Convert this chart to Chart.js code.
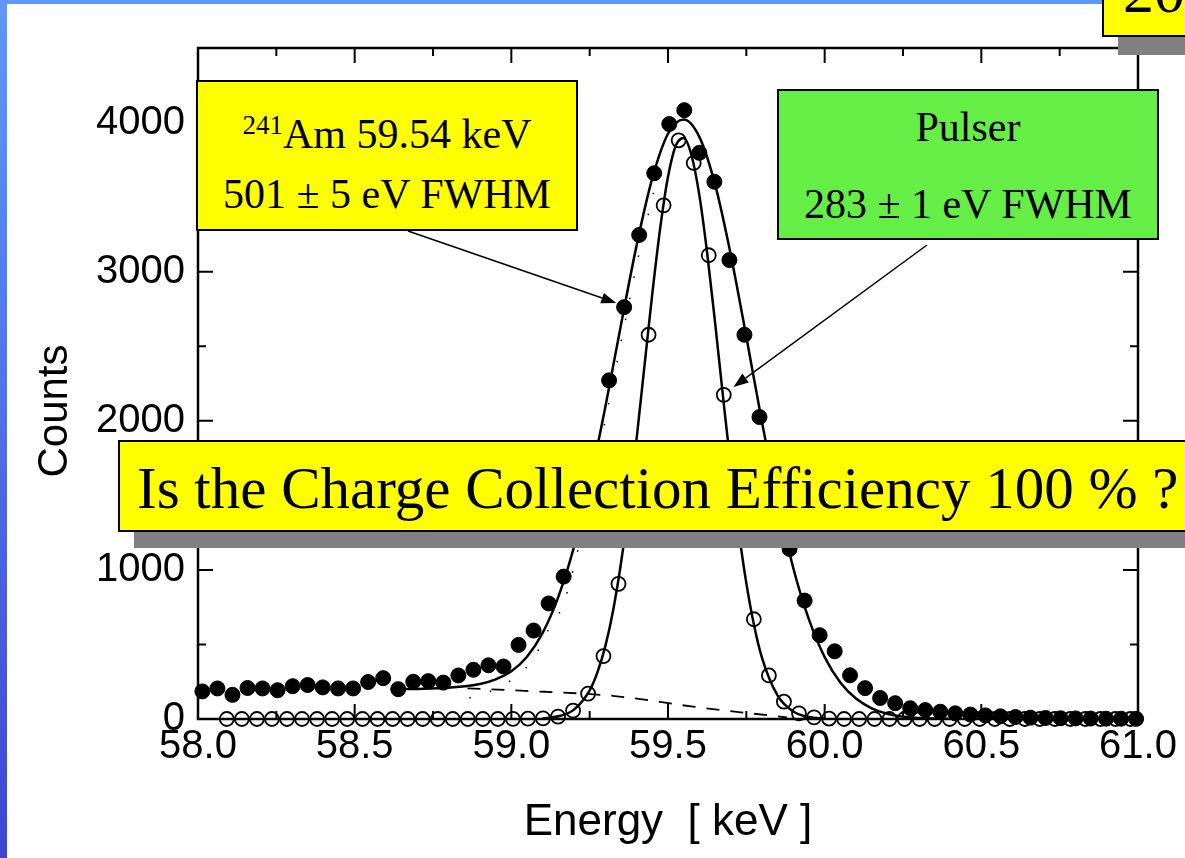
<!DOCTYPE html>
<html>
<head>
<meta charset="utf-8">
<script src="https://cdn.jsdelivr.net/npm/chart.js@4.4.1/dist/chart.umd.min.js"></script>
<style>
  body { margin: 0; background: #fff; }
  #slide { position: relative; width: 1185px; height: 858px; overflow: hidden; background: #fff; }
  #chart { position: absolute; left: 0; top: 0; }
  .bar-left { position: absolute; left: 0; top: 0; width: 7px; height: 858px; background: linear-gradient(#5f98fc, #3b46d3); }
  .bar-top { position: absolute; left: 0; top: 0; width: 1110px; height: 4px; background: #5f97fc; }
  .box { position: absolute; border: 2px solid #000; box-sizing: border-box; font-family: "Liberation Serif", "Times New Roman", serif; color: #000; }
  .shadow { position: absolute; background: #808080; }
  .txt { position: absolute; left: 0; right: 0; text-align: center; white-space: nowrap; font-size: 42px; line-height: 42px; }
</style>
</head>
<body>
<div id="slide">
  <div class="bar-left"></div>
  <div class="bar-top"></div>
  <canvas id="chart" width="1185" height="858"></canvas>

  <div class="box" style="left:196px;top:80px;width:382px;height:151px;background:#ffff00;">
    <div class="txt" style="top:22px;"><span style="font-size:27px;vertical-align:14px;">241</span>Am 59.54 keV</div>
    <div class="txt" style="top:91px;">501 ± 5 eV FWHM</div>
  </div>

  <div class="box" style="left:777px;top:89px;width:382px;height:151px;background:#64ee46;">
    <div class="txt" style="top:15px;">Pulser</div>
    <div class="txt" style="top:92px;">283 ± 1 eV FWHM</div>
  </div>

  <div class="shadow" style="left:134px;top:456px;width:1100px;height:92px;"></div>
  <div class="box" style="left:118px;top:440px;width:1100px;height:92px;background:#ffff00;">
    <div class="txt" style="left:17px;text-align:left;top:17px;font-size:59px;line-height:58px;">Is the Charge Collection Efficiency 100 % ?</div>
  </div>

  <div class="shadow" style="left:1118px;top:-20px;width:100px;height:75px;"></div>
  <div class="box" style="left:1102px;top:-30px;width:110px;height:67px;background:#ffff00;">
    <div class="txt" style="left:19px;text-align:left;top:-11px;font-size:62px;line-height:60px;">20</div>
  </div>
</div>

<script>
// 241Am spectrum (filled circles)
const amEnergy = [58.014, 58.062, 58.110, 58.158, 58.206, 58.254, 58.302, 58.350, 58.398, 58.447,
  58.495, 58.543, 58.591, 58.639, 58.687, 58.735, 58.783, 58.831, 58.879, 58.927,
  58.975, 59.023, 59.071, 59.119, 59.167, 59.216, 59.264, 59.312, 59.360, 59.408,
  59.456, 59.504, 59.552, 59.600, 59.648, 59.696, 59.744, 59.792, 59.840, 59.888,
  59.936, 59.984, 60.032, 60.081, 60.129, 60.177, 60.225, 60.273, 60.321, 60.369,
  60.417, 60.465, 60.513, 60.561, 60.609, 60.657, 60.705, 60.753, 60.801, 60.849,
  60.898, 60.946, 60.994];
const amCounts = [185, 205, 162, 208, 205, 193, 220, 228, 212, 205,
  205, 248, 274, 200, 250, 254, 244, 292, 330, 360,
  352, 497, 593, 775, 955, 1350, 1800, 2271, 2762, 3246,
  3660, 3990, 4083, 3797, 3603, 3078, 2577, 2025, 1560, 1140,
  794, 562, 454, 293, 207, 141, 106, 72, 60, 49,
  38, 30, 24, 18, 13, 9, 7, 5, 4, 3,
  2, 2, 1];

// pulser spectrum (open circles)
const pulserEnergy = [58.092, 58.140, 58.188, 58.236, 58.284, 58.332, 58.380, 58.428, 58.476, 58.525,
  58.573, 58.621, 58.669, 58.717, 58.765, 58.813, 58.861, 58.909, 58.957, 59.005,
  59.053, 59.101, 59.149, 59.197, 59.245, 59.294, 59.342, 59.390, 59.438, 59.486,
  59.534, 59.582, 59.630, 59.678, 59.726, 59.774, 59.822, 59.870, 59.918, 59.966,
  60.014, 60.062, 60.110, 60.159, 60.207, 60.255, 60.303, 60.351, 60.399, 60.447,
  60.495, 60.543, 60.591, 60.639, 60.687, 60.735, 60.784, 60.832, 60.880, 60.928,
  60.976];
const pulserCounts = [0, 0, 0, 0, 0, 0, 0, 0, 0, 0,
  0, 0, 0, 0, 0, 0, 0, 0, 0, 1,
  2, 4, 16, 56, 170, 422, 906, 1650, 2577, 3445,
  3881, 3729, 3110, 2174, 1330, 669, 292, 116, 38, 11,
  3, 0, 0, 0, 0, 0, 0, 0, 0, 0,
  0, 0, 0, 0, 0, 0, 0, 0, 0, 0,
  0];

// fit curves
const amFitEnergy = [58.62, 58.70, 58.80, 58.90, 58.95, 59.00, 59.05, 59.10, 59.15, 59.20,
  59.25, 59.30, 59.35, 59.40, 59.45, 59.50, 59.55, 59.60, 59.65, 59.70,
  59.75, 59.80, 59.85, 59.90, 59.95, 60.00, 60.05, 60.10, 60.15, 60.20,
  60.25, 60.30, 60.40];
const amFitCounts = [200, 202, 210, 235, 266, 320, 418, 578, 819, 1154,
  1585, 2093, 2644, 3178, 3627, 3925, 4021, 3904, 3587, 3117,
  2563, 1991, 1463, 1011, 666, 415, 245, 137, 72, 35,
  16, 7, 1];

const pulserFitEnergy = [59.10, 59.15, 59.20, 59.25, 59.275, 59.30, 59.325, 59.35, 59.375, 59.40,
  59.425, 59.45, 59.475, 59.50, 59.525, 59.55, 59.575, 59.60, 59.625, 59.65,
  59.675, 59.70, 59.725, 59.75, 59.775, 59.80, 59.85, 59.90, 59.95, 60.00];
const pulserFitCounts = [4, 18, 63, 192, 314, 489, 730, 1046, 1435, 1884,
  2370, 2854, 3290, 3636, 3846, 3897, 3781, 3513, 3125, 2663,
  2173, 1699, 1272, 911, 625, 410, 156, 50, 13, 3];

// background step (dashed) and gaussian component (dotted)
const stepEnergy = [58.86, 59.03, 59.33, 59.58, 59.88];
const stepCounts = [205, 190, 154, 83, 10];
const gaussEnergy = [58.866, 58.92, 59.022, 59.07, 59.118, 59.166, 59.214, 59.31, 59.358, 59.406, 59.454];
const gaussCounts = [141, 174, 295, 403, 597, 772, 1147, 2107, 2610, 3107, 3530];

const xTicks = [58.0, 58.5, 59.0, 59.5, 60.0, 60.5, 61.0];
const xMinorTicks = [58.25, 58.75, 59.25, 59.75, 60.25, 60.75];
const yTicks = [0, 1000, 2000, 3000, 4000];
const yMinorTicks = [500, 1500, 2500, 3500];

// arrow tips in data units, tails at the box edges
const amArrow = { tip: { x: 59.335, y: 2790 }, tail: { px: 408, py: 231 } };
const pulserArrow = { tip: { x: 59.709, y: 2227 }, tail: { px: 927, py: 245 } };

const sansFont = '"Liberation Sans", Arial, sans-serif';

function toXY(xs, ys) {
  return xs.map(function(x, i) { return { x: x, y: ys[i] }; });
}

// box frame with inward ticks on all four sides
const framePlugin = {
  id: 'frame',
  beforeDatasetsDraw(chart) {
    const { ctx, chartArea: a, scales } = chart;
    const x = scales.x, y = scales.y;
    ctx.save();
    ctx.strokeStyle = '#000';
    ctx.lineWidth = 2.5;
    ctx.strokeRect(a.left, a.top, a.right - a.left, a.bottom - a.top);
    ctx.lineWidth = 2;
    ctx.beginPath();
    const xt = function(v, len) {
      const p = x.getPixelForValue(v);
      ctx.moveTo(p, a.bottom); ctx.lineTo(p, a.bottom - len);
      ctx.moveTo(p, a.top); ctx.lineTo(p, a.top + len);
    };
    const yt = function(v, len) {
      const p = y.getPixelForValue(v);
      ctx.moveTo(a.left, p); ctx.lineTo(a.left + len, p);
      ctx.moveTo(a.right, p); ctx.lineTo(a.right - len, p);
    };
    xTicks.forEach(function(v) { xt(v, 15); });
    xMinorTicks.forEach(function(v) { xt(v, 8); });
    yTicks.forEach(function(v) { yt(v, 15); });
    yMinorTicks.forEach(function(v) { yt(v, 8); });
    ctx.stroke();
    ctx.restore();
  },
  afterDatasetsDraw(chart) {
    const { ctx, scales } = chart;
    ctx.save();
    ctx.strokeStyle = '#000';
    ctx.fillStyle = '#000';
    ctx.lineWidth = 1.5;
    [amArrow, pulserArrow].forEach(function(arr) {
      const tx = scales.x.getPixelForValue(arr.tip.x);
      const ty = scales.y.getPixelForValue(arr.tip.y);
      const ang = Math.atan2(ty - arr.tail.py, tx - arr.tail.px);
      const hl = 15, hw = 5.5;
      const bx = tx - hl * Math.cos(ang), by = ty - hl * Math.sin(ang);
      ctx.beginPath();
      ctx.moveTo(arr.tail.px, arr.tail.py);
      ctx.lineTo(bx, by);
      ctx.stroke();
      ctx.beginPath();
      ctx.moveTo(tx, ty);
      ctx.lineTo(bx + hw * Math.sin(ang), by - hw * Math.cos(ang));
      ctx.lineTo(bx - hw * Math.sin(ang), by + hw * Math.cos(ang));
      ctx.closePath();
      ctx.fill();
    });
    // y axis title
    ctx.translate(55, 411);
    ctx.rotate(-Math.PI / 2);
    ctx.font = '42px ' + sansFont;
    ctx.textAlign = 'center';
    ctx.textBaseline = 'middle';
    ctx.fillText('Counts', 0, 0);
    ctx.restore();
  }
};

const lineStyle = { showLine: true, pointRadius: 0, borderColor: '#000', fill: false, cubicInterpolationMode: 'monotone', clip: false };

new Chart(document.getElementById('chart'), {
  type: 'scatter',
  data: {
    datasets: [
      { label: 'Pulser', data: toXY(pulserEnergy, pulserCounts), pointRadius: 7, borderWidth: 1.8,
        borderColor: '#000', backgroundColor: 'rgba(0,0,0,0)', clip: false, order: 0 },
      { label: '241Am', data: toXY(amEnergy, amCounts), pointRadius: 7.5, borderWidth: 1,
        borderColor: '#000', backgroundColor: '#000', clip: false, order: 1 },
      Object.assign({ label: 'Am fit', data: toXY(amFitEnergy, amFitCounts), borderWidth: 2.5, order: 2 }, lineStyle),
      Object.assign({ label: 'Pulser fit', data: toXY(pulserFitEnergy, pulserFitCounts), borderWidth: 2.5, order: 3 }, lineStyle),
      Object.assign({ label: 'Step', data: toXY(stepEnergy, stepCounts), borderWidth: 1.8, borderDash: [13, 11], order: 4 }, lineStyle),
      Object.assign({ label: 'Gauss', data: toXY(gaussEnergy, gaussCounts), borderWidth: 1.5, borderDash: [1.5, 20], order: 5 }, lineStyle),
    ],
  },
  options: {
    responsive: false,
    devicePixelRatio: 1,
    animation: false,
    events: [],
    layout: { padding: { left: 0, top: 48, right: 47, bottom: 0 } },
    plugins: { legend: { display: false }, tooltip: { enabled: false } },
    scales: {
      x: {
        type: 'linear', min: 58, max: 61,
        grid: { display: false, drawTicks: false },
        border: { display: false },
        afterFit: function(s) { s.height = 139; },
        afterBuildTicks: function(s) { s.ticks = xTicks.map(function(v) { return { value: v }; }); },
        ticks: { color: '#000', font: { family: sansFont, size: 40 }, padding: 4, maxRotation: 0, autoSkip: false,
          callback: function(v) { return Number(v).toFixed(1); } },
        title: { display: true, text: 'Energy  [ keV ]', color: '#000', font: { family: sansFont, size: 44 }, padding: { top: 0, bottom: 9 } },
      },
      y: {
        type: 'linear', min: 0, max: 4500,
        grid: { display: false, drawTicks: false },
        border: { display: false },
        afterFit: function(s) { s.width = 198; },
        afterBuildTicks: function(s) { s.ticks = yTicks.map(function(v) { return { value: v }; }); },
        ticks: { color: '#000', font: { family: sansFont, size: 40 }, padding: 13,
          callback: function(v) { return String(v); } },
      },
    },
  },
  plugins: [framePlugin],
});
</script>
</body>
</html>
